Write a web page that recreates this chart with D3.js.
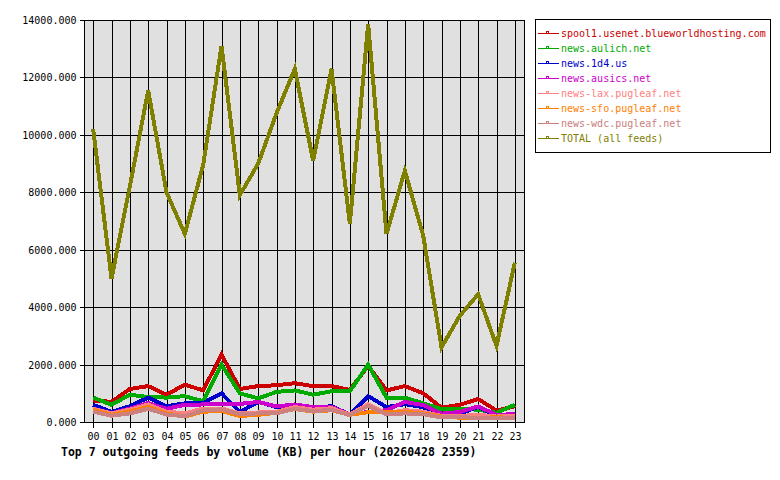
<!DOCTYPE html>
<html><head><meta charset="utf-8">
<script src="https://cdn.jsdelivr.net/npm/d3@7/dist/d3.min.js"></script>
<style>
html,body{margin:0;padding:0;background:#fff;}
svg{display:block;}
text{font-family:"DejaVu Sans Mono",monospace;}
</style></head>
<body>
<script>
const hours = ["00","01","02","03","04","05","06","07","08","09","10","11","12","13","14","15","16","17","18","19","20","21","22","23"];
const yTickValues = [0,2000,4000,6000,8000,10000,12000,14000];
const title = "Top 7 outgoing feeds by volume (KB) per hour (20260428 2359)";

const seriesNames = ["spool1.usenet.blueworldhosting.com","news.aulich.net","news.1d4.us","news.ausics.net","news-lax.pugleaf.net","news-sfo.pugleaf.net","news-wdc.pugleaf.net","TOTAL (all feeds)"];
const seriesColors = ["#cc0000","#00aa00","#0000cc","#cc00cc","#ff8080","#ff8000","#cc8080","#808000"];

const spool1 = [750,700,1150,1250,950,1300,1100,2350,1150,1250,1280,1350,1250,1250,1120,1950,1100,1250,1000,500,600,800,400,550];
const aulich = [850,600,950,870,850,900,720,2000,1000,820,1050,1100,950,1070,1070,2000,850,850,650,450,450,430,320,600];
const d14 = [600,350,550,850,550,650,660,1000,350,700,520,600,500,550,260,900,520,620,520,290,300,520,200,210];
const ausics = [470,310,470,660,460,600,610,620,630,700,540,610,520,520,270,350,410,700,590,290,350,540,250,270];
const lax = [460,300,430,610,360,300,470,470,300,330,360,520,430,480,260,620,300,410,360,210,210,250,190,210];
const sfo = [420,250,370,520,300,190,360,380,210,250,320,450,360,410,250,340,350,350,300,190,150,150,160,150];
const wdc = [360,220,300,460,260,200,410,440,270,300,300,460,380,420,240,560,260,300,270,160,180,130,130,130];
const total = [10200,5000,8200,11550,8000,6550,8950,13100,7900,9000,10750,12300,9100,12300,6900,13850,6550,8750,6500,2600,3700,4450,2650,5550];

const seriesValues = [spool1, aulich, d14, ausics, lax, sfo, wdc, total];

(function(){
const W = 780, H = 480;
const svg = d3.select("body").append("svg").attr("width", W).attr("height", H);

const pL = 84, pR = 524, pT = 20, pB = 422;
const x = d3.scalePoint().domain(hours).range([pL, pR]).padding(0.5);
const y = d3.scaleLinear().domain([0, 14000]).range([pB, pT]);

svg.append("rect").attr("x", pL + 0.5).attr("y", pT + 0.5)
  .attr("width", pR - pL).attr("height", pB - pT)
  .attr("fill", "#e0e0e0");

const grid = svg.append("g").attr("stroke", "#000").attr("stroke-width", 1).attr("shape-rendering", "crispEdges");
grid.selectAll("line.h").data(yTickValues).join("line").attr("class","h")
  .attr("x1", pL).attr("x2", pR)
  .attr("y1", d => Math.round(y(d)) + 0.5).attr("y2", d => Math.round(y(d)) + 0.5);
grid.selectAll("line.v").data(hours).join("line").attr("class","v")
  .attr("y1", pT).attr("y2", pB)
  .attr("x1", d => Math.round(x(d)) + 0.5).attr("x2", d => Math.round(x(d)) + 0.5);

const yAxis = svg.append("g").attr("transform", `translate(${pL + 0.5},0)`)
  .call(d3.axisLeft(y).tickValues(yTickValues).tickFormat(d => d.toFixed(3)).tickSize(5).tickPadding(3));
yAxis.select(".domain").remove();
yAxis.selectAll(".tick").attr("transform", d => `translate(0,${Math.round(y(d)) + 0.5})`);
yAxis.selectAll("line").attr("stroke", "#000").attr("shape-rendering", "crispEdges");
yAxis.selectAll("text").attr("font-size", 10).attr("font-family", "DejaVu Sans Mono, monospace").attr("fill", "#000");

const xAxis = svg.append("g").attr("transform", `translate(0,${pB + 0.5})`)
  .call(d3.axisBottom(x).tickSize(5).tickPadding(5));
xAxis.select(".domain").remove();
xAxis.selectAll(".tick").attr("transform", d => `translate(${Math.round(x(d)) + 0.5},0)`);
xAxis.selectAll("line").attr("stroke", "#000").attr("shape-rendering", "crispEdges");
xAxis.selectAll("text").attr("font-size", 10).attr("font-family", "DejaVu Sans Mono, monospace").attr("fill", "#000");

const line = d3.line().x((d, i) => x(hours[i])).y(d => y(d));
const lines = svg.append("g");
seriesValues.forEach((vals, si) => {
  lines.append("path").datum(vals)
    .attr("d", line)
    .attr("fill", "none")
    .attr("stroke", seriesColors[si])
    .attr("stroke-width", 4)
    .attr("stroke-linejoin", "miter")
    .attr("shape-rendering", "crispEdges");
});

svg.append("rect").attr("x", pL + 0.5).attr("y", pT + 0.5)
  .attr("width", pR - pL).attr("height", pB - pT)
  .attr("fill", "none").attr("stroke", "#000").attr("shape-rendering", "crispEdges");

svg.append("text").attr("x", 61).attr("y", 456)
  .attr("text-anchor", "start").attr("font-size", 11.5).attr("font-weight", "bold")
  .attr("font-family", "DejaVu Sans Mono, monospace").attr("fill", "#000")
  .text(title);

const lg = svg.append("g");
lg.append("rect").attr("x", 535.5).attr("y", 19.5).attr("width", 235).attr("height", 133)
  .attr("fill", "#fff").attr("stroke", "#000").attr("shape-rendering", "crispEdges");
seriesNames.forEach((name, i) => {
  const ry = 33 + i * 15;
  lg.append("line").attr("x1", 538).attr("x2", 559).attr("y1", ry + 0.5).attr("y2", ry + 0.5)
    .attr("stroke", seriesColors[i]).attr("shape-rendering", "crispEdges");
  lg.append("rect").attr("x", 546.5).attr("y", ry - 1.5).attr("width", 2).attr("height", 2)
    .attr("fill", "none").attr("stroke", seriesColors[i]).attr("shape-rendering", "crispEdges");
  lg.append("text").attr("x", 561).attr("y", ry).attr("dy", "0.35em")
    .attr("font-size", 10).attr("font-family", "DejaVu Sans Mono, monospace")
    .attr("fill", seriesColors[i]).text(name);
});
})();
</script>
</body></html>
